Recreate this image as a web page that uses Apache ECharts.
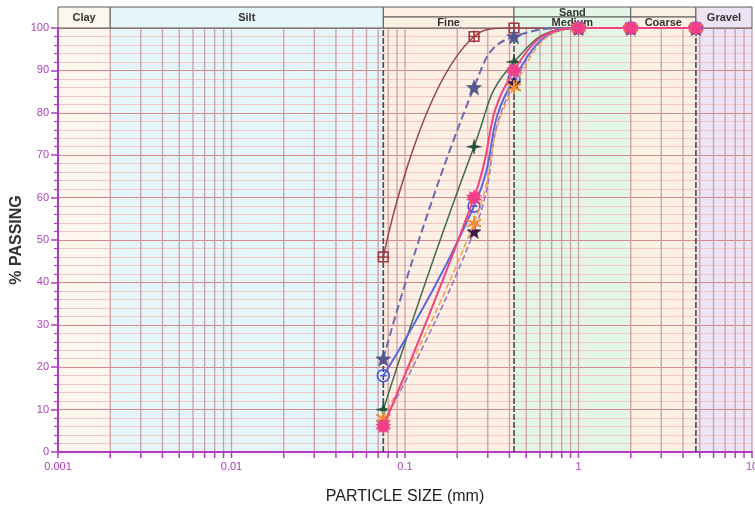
<!DOCTYPE html>
<html>
<head>
<meta charset="utf-8">
<script src="https://cdn.jsdelivr.net/npm/echarts@6/dist/echarts.min.js"></script>
<style>
  html, body { margin: 0; padding: 0; background: #ffffff; }
  #chart { width: 755px; height: 505px; }
</style>
</head>
<body>
<div id="chart"></div>
<script>
// Sieve sizes (mm) and percent passing for each sample
const sieveSizes = [0.075, 0.25, 0.425, 1, 2, 4.75];
const passingA = [46, 98, 100, 100, 100, 100];
const passingB = [22, 86, 98, 100, 100, 100];
const passingC = [10, 72, 92, 100, 100, 100];
const passingD = [18, 58, 88, 100, 100, 100];
const passingE = [7, 52, 87, 100, 100, 100];
const passingF = [8, 54, 86, 100, 100, 100];
const passingG = [6, 60, 90, 100, 100, 100];

// Axis ranges and tick labels
const xTickLabels = [0.001, 0.01, 0.1, 1, 10];
const yTickLabels = [0, 10, 20, 30, 40, 50, 60, 70, 80, 90, 100];

// Soil classification zones (mm)
const zoneEdges = [0.001, 0.002, 0.075, 0.425, 2, 4.75, 10];
const zoneNames = ['Clay', 'Silt', 'Fine', 'Medium', 'Coarse', 'Gravel'];
const sandTitle = 'Sand';
const boundarySizes = [0.075, 0.425, 4.75];

const zoneColors = ['#fdf6ec', '#e4f6f9', '#fcefe3', '#e3f6e6', '#fbf1e3', '#ece3f5'];
const AXIS_PURPLE = '#b03cc0';
const HEADER_H = 21;      // header strip height above the plot, px
const HEADER_SPLIT = 10;  // height of the upper row over the sand zones, px

// Log-scale minor positions (1..9 per decade) across the x range
const decades = [];
for (let p = Math.log10(xTickLabels[0]); p < Math.log10(xTickLabels[xTickLabels.length - 1]); p++) decades.push(Math.pow(10, p));
const minorPositions = [];
decades.forEach(d => { for (let m = 1; m <= 9; m++) minorPositions.push(+(m * d).toPrecision(3)); });
minorPositions.push(xTickLabels[xTickLabels.length - 1]);

// Header cells: [from, to, row, text] where row 0 = full height, 1 = upper, 2 = lower
const headerCells = [
  [zoneEdges[0], zoneEdges[1], 0, zoneNames[0]],
  [zoneEdges[1], zoneEdges[2], 0, zoneNames[1]],
  [zoneEdges[2], zoneEdges[3], 1, ''],
  [zoneEdges[2], zoneEdges[3], 2, zoneNames[2]],
  [zoneEdges[3], zoneEdges[4], 1, sandTitle],
  [zoneEdges[3], zoneEdges[4], 2, zoneNames[3]],
  [zoneEdges[4], zoneEdges[5], 1, ''],
  [zoneEdges[4], zoneEdges[5], 2, zoneNames[4]],
  [zoneEdges[5], zoneEdges[6], 0, zoneNames[5]]
];
const headerColor = [0, 1, 2, 2, 3, 3, 4, 4, 5];

// Marker shapes
function starPath(n, rOut, rIn) {
  let d = '';
  for (let i = 0; i < n * 2; i++) {
    const r = i % 2 === 0 ? rOut : rIn;
    const a = Math.PI * i / n - Math.PI / 2;
    d += (i === 0 ? 'M' : 'L') + (50 + r * Math.cos(a)).toFixed(1) + ',' + (50 + r * Math.sin(a)).toFixed(1) + ' ';
  }
  return 'path://' + d + 'Z';
}
const SYM_SQUARE_CROSS = 'path://M10,10 L90,10 L90,90 L10,90 Z M50,0 L50,100 M0,50 L100,50';
const SYM_STAR5 = starPath(5, 50, 21);
const SYM_STAR4 = starPath(4, 50, 14);
const SYM_CIRCLE_BAR = 'path://M5,50 A45,45 0 1,1 95,50 A45,45 0 1,1 5,50 Z M25,50 L75,50';
const SYM_BURST = starPath(10, 50, 34);
const SYM_ASTERISK = 'path://M50,0 L50,100 M7,25 L93,75 M7,75 L93,25';

function toPoints(values) {
  return sieveSizes.map((s, i) => [s, values[i]]);
}

function sample(name, values, lineColor, lineType, lineWidth, symbol, size, itemStyle, z) {
  return {
    name: name,
    type: 'line',
    data: toPoints(values),
    smooth: 0.5,
    symbol: symbol,
    symbolSize: size,
    showAllSymbol: true,
    z: z,
    lineStyle: { color: lineColor, width: lineWidth, type: lineType },
    itemStyle: itemStyle,
    emphasis: { disabled: true }
  };
}

const chart = echarts.init(document.getElementById('chart'));

const option = {
  animation: false,
  backgroundColor: '#ffffff',
  grid: { left: 58, right: 3, top: 28, bottom: 53, containLabel: false, outerBoundsMode: 'none' },
  xAxis: {
    type: 'log',
    logBase: 10,
    min: xTickLabels[0],
    max: xTickLabels[xTickLabels.length - 1],
    z: 1,
    name: 'PARTICLE SIZE (mm)',
    nameLocation: 'middle',
    nameGap: 37,
    nameMoveOverlap: false,
    nameTextStyle: { fontFamily: 'Liberation Sans, Arial, sans-serif', fontSize: 16, color: '#222222' },
    axisLine: { show: true, lineStyle: { color: AXIS_PURPLE, width: 2 } },
    axisTick: { show: false },
    splitLine: { show: false },
    axisLabel: {
      color: AXIS_PURPLE,
      fontSize: 11,
      fontFamily: 'Liberation Sans, Arial, sans-serif',
      margin: 9,
      formatter: v => String(+(+v).toPrecision(3))
    }
  },
  yAxis: {
    type: 'value',
    min: yTickLabels[0],
    max: yTickLabels[yTickLabels.length - 1],
    interval: yTickLabels[1] - yTickLabels[0],
    z: 1,
    name: '% PASSING',
    nameLocation: 'middle',
    nameGap: 33,
    nameMoveOverlap: false,
    nameRotate: 90,
    nameTextStyle: { fontFamily: 'Liberation Sans, Arial, sans-serif', fontSize: 16, fontWeight: 'bold', color: '#333333' },
    axisLine: { show: true, lineStyle: { color: AXIS_PURPLE, width: 2 } },
    axisTick: { show: true, inside: false, length: 7, lineStyle: { color: AXIS_PURPLE, width: 1.5 } },
    minorTick: { show: true, splitNumber: 5, length: 4, lineStyle: { color: AXIS_PURPLE, width: 1.2 } },
    splitLine: { show: true, lineStyle: { color: '#d68a8c', width: 1 } },
    minorSplitLine: { show: true, lineStyle: { color: '#f2c6c6', width: 1 } },
    axisLabel: { color: AXIS_PURPLE, fontSize: 11, fontFamily: 'Liberation Sans, Arial, sans-serif', margin: 9 }
  },
  series: [
    // Zone background bands
    {
      type: 'custom',
      z: 0,
      silent: true,
      data: zoneNames.map((n, i) => [zoneEdges[i], 0, zoneEdges[i + 1]]),
      renderItem: (params, api) => {
        const a = api.coord([api.value(0), 100]);
        const b = api.coord([api.value(2), 0]);
        return { type: 'rect', shape: { x: a[0], y: a[1], width: b[0] - a[0], height: b[1] - a[1] },
                 style: { fill: zoneColors[params.dataIndex] } };
      }
    },
    // Log grid lines and x ticks
    {
      type: 'custom',
      z: 1,
      silent: true,
      clip: false,
      data: minorPositions.map(v => [v, 0]),
      renderItem: (params, api) => {
        const bot = api.coord([api.value(0), 0]);
        const top = api.coord([api.value(0), 100]);
        return { type: 'group', children: [
          { type: 'line', shape: { x1: bot[0], y1: bot[1], x2: top[0], y2: top[1] },
            style: { stroke: '#cc9ea6', lineWidth: 1.3 } },
          { type: 'line', shape: { x1: bot[0], y1: bot[1], x2: bot[0], y2: bot[1] + 6 },
            style: { stroke: AXIS_PURPLE, lineWidth: 1.5 } }
        ] };
      }
    },
    // Zone boundary lines
    {
      type: 'custom',
      z: 2,
      silent: true,
      data: boundarySizes.map(v => [v, 0]),
      renderItem: (params, api) => {
        const bot = api.coord([api.value(0), 0]);
        const top = api.coord([api.value(0), 100]);
        return { type: 'line', shape: { x1: bot[0], y1: bot[1], x2: top[0], y2: top[1] },
                 style: { stroke: '#3f4f48', lineWidth: 1.6, lineDash: [6, 2] } };
      }
    },
    // Classification header strip
    {
      type: 'custom',
      z: 2,
      silent: true,
      clip: false,
      data: headerCells.map(c => [c[0], 0, c[1]]),
      renderItem: (params, api) => {
        const cell = headerCells[params.dataIndex];
        const a = api.coord([api.value(0), 100]);
        const b = api.coord([api.value(2), 100]);
        let y0 = a[1] - HEADER_H, h = HEADER_H;
        if (cell[2] === 1) { h = HEADER_SPLIT; }
        if (cell[2] === 2) { y0 = a[1] - HEADER_H + HEADER_SPLIT; h = HEADER_H - HEADER_SPLIT; }
        return { type: 'group', children: [
          { type: 'rect', shape: { x: a[0], y: y0, width: b[0] - a[0], height: h },
            style: { fill: zoneColors[headerColor[params.dataIndex]], stroke: '#5a5a5a', lineWidth: 1 } },
          { type: 'text', x: (a[0] + b[0]) / 2, y: y0 + h / 2 + 0.5,
            style: { text: cell[3], fill: '#333333', font: 'bold 11px "Liberation Sans", Arial, sans-serif',
                     align: 'center', verticalAlign: 'middle' } }
        ] };
      }
    },
    sample('A', passingA, '#9a4352', 'solid', 1.5, SYM_SQUARE_CROSS, 12,
      { color: 'rgba(0,0,0,0)', borderColor: '#a03a40', borderWidth: 1.6 }, 3),
    sample('B', passingB, '#6a6ab2', 'dashed', 2, SYM_STAR5, 15,
      { color: '#54588e', borderColor: '#54588e', borderWidth: 0.5 }, 4),
    sample('C', passingC, '#3e6c4c', 'solid', 1.5, SYM_STAR4, 15,
      { color: '#23503a', borderColor: '#23503a', borderWidth: 0.5 }, 5),
    sample('D', passingD, '#5a66e6', 'solid', 2, SYM_CIRCLE_BAR, 12,
      { color: 'rgba(0,0,0,0)', borderColor: '#4a58e0', borderWidth: 1.6 }, 6),
    sample('E', passingE, '#9474bc', 'dashed', 1.5, SYM_STAR5, 14,
      { color: '#3a1a46', borderColor: '#3a1a46', borderWidth: 0.5 }, 7),
    sample('F', passingF, '#f4a055', 'dashed', 1.5, SYM_ASTERISK, 14,
      { color: 'rgba(0,0,0,0)', borderColor: '#f48a30', borderWidth: 2 }, 8),
    sample('G', passingG, '#f2437e', 'solid', 2, SYM_BURST, 15,
      { color: '#f0408a', borderColor: '#f25a9a', borderWidth: 0.5 }, 9)
  ]
};

chart.setOption(option);
</script>
</body>
</html>
